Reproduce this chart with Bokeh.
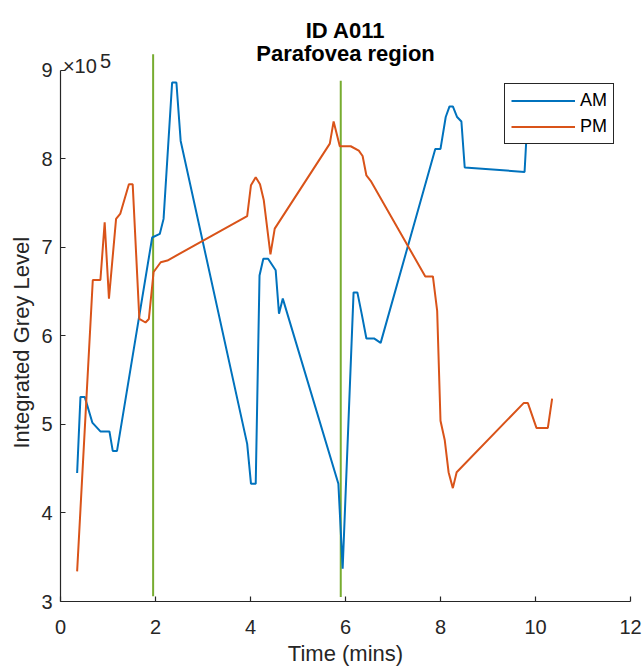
from bokeh.plotting import figure
from bokeh.models import (Range1d, FixedTicker, Legend, LegendItem, Title)
from bokeh.core.properties import value
from bokeh.embed import file_html
from bokeh.resources import INLINE

# ---------------- data (values in units of 1e5) ----------------
am_time = [0.35, 0.42, 0.51, 0.67, 0.84, 1.03, 1.10, 1.19, 1.93, 2.09, 2.17, 2.35,
           2.44, 2.53, 3.93, 4.01, 4.11, 4.19, 4.27, 4.37, 4.53, 4.60, 4.68, 5.85,
           5.94, 6.17, 6.25, 6.34, 6.44, 6.60, 6.74, 7.89, 8.00, 8.11, 8.19, 8.26,
           8.35, 8.44, 8.51, 9.77, 9.80, 9.83]
am_level = [4.45, 5.31, 5.31, 5.02, 4.92, 4.92, 4.70, 4.70, 7.11, 7.15, 7.32, 8.86,
            8.86, 8.20, 4.78, 4.33, 4.33, 6.68, 6.87, 6.87, 6.74, 6.25, 6.42, 4.33,
            3.37, 6.49, 6.49, 6.25, 5.97, 5.97, 5.92, 8.11, 8.11, 8.47, 8.59, 8.59,
            8.47, 8.42, 7.90, 7.85, 8.15, 8.35]

pm_time = [0.35, 0.68, 0.84, 0.93, 1.02, 1.17, 1.26, 1.44, 1.52, 1.66, 1.79, 1.86,
           1.96, 2.11, 2.25, 3.93, 4.01, 4.11, 4.20, 4.28, 4.42, 4.51, 5.67, 5.75,
           5.88, 6.11, 6.28, 6.36, 6.44, 6.53, 7.68, 7.84, 7.93, 8.00, 8.09, 8.17,
           8.26, 8.34, 9.75, 9.84, 10.02, 10.26, 10.35]
pm_level = [3.34, 6.63, 6.63, 7.28, 6.42, 7.32, 7.38, 7.71, 7.71, 6.19, 6.15, 6.19,
            6.72, 6.83, 6.85, 7.35, 7.70, 7.79, 7.71, 7.53, 6.92, 7.21, 8.17, 8.42,
            8.14, 8.14, 8.09, 8.03, 7.81, 7.75, 6.67, 6.67, 6.28, 5.04, 4.82, 4.46,
            4.28, 4.46, 5.24, 5.24, 4.96, 4.96, 5.29]

marker_time = [1.95, 5.90]
marker_low = [3.06, 3.05]
marker_high = [9.18, 8.88]

x_ticks = [0, 2, 4, 6, 8, 10, 12]
y_ticks = [3, 4, 5, 6, 7, 8, 9]

FONT = "Liberation Sans"
AX = "#262626"

# ---------------- figure ----------------
p = figure(width=644, height=668, output_backend="svg", toolbar_location=None,
           x_range=Range1d(0, 12), y_range=Range1d(3, 3 + 596 / 88.57),
           min_border_left=60, min_border_right=14, min_border_top=5,
           min_border_bottom=67)
p.outline_line_color = None
p.xgrid.visible = False
p.ygrid.visible = False
p.background_fill_color = "white"
p.border_fill_color = "white"

for ax in (p.xaxis[0], p.yaxis[0]):
    ax.axis_line_color = AX
    ax.axis_line_width = 1.2
    ax.major_tick_line_color = AX
    ax.major_tick_line_width = 1.2
    ax.major_tick_in = 5
    ax.major_tick_out = 0
    ax.minor_tick_line_color = None
    ax.major_label_text_font = FONT
    ax.major_label_text_font_size = "20px"
    ax.major_label_text_color = AX
    ax.axis_label_text_font = FONT
    ax.axis_label_text_font_size = "22px"
    ax.axis_label_text_font_style = "normal"
    ax.axis_label_text_color = AX

p.xaxis[0].ticker = FixedTicker(ticks=x_ticks)
p.yaxis[0].ticker = FixedTicker(ticks=y_ticks)
p.yaxis[0].bounds = (3, 9)
p.xaxis[0].axis_label = "Time (mins)"
p.xaxis[0].major_label_standoff = 18
p.xaxis[0].axis_label_standoff = 4
p.yaxis[0].major_label_standoff = 8

# y-axis label as a side title, placed beside the 3..9 span of the axis
ylab = Title(text="Integrated Grey Level", align="left", offset=153,
             vertical_align="top",
             text_font=FONT, text_font_size="22px", text_font_style="normal",
             text_color=AX, standoff=6)
p.add_layout(ylab, "left")

# vertical marker lines
p.segment(x0=marker_time, x1=marker_time, y0=marker_low, y1=marker_high,
          line_color="#77AC30", line_width=2)

am = p.line(am_time, am_level, line_color="#0072BD", line_width=2)
pm = p.line(pm_time, pm_level, line_color="#D95319", line_width=2)

# titles and exponent label
p.text(x=[6], y=[3 + 571 / 88.57], text=["ID A011"], text_font=value(FONT),
       text_font_size="22px", text_font_style="bold", text_align="center",
       text_baseline="alphabetic", text_color="black")
p.text(x=[6], y=[3 + 548 / 88.57], text=["Parafovea region"], text_font=value(FONT),
       text_font_size="22px", text_font_style="bold", text_align="center",
       text_baseline="alphabetic", text_color="black")
p.text(x=[0.05], y=[3 + 536 / 88.57], text=["\u00d710"], text_font=value(FONT),
       text_font_size="20px", text_align="left", text_baseline="alphabetic",
       text_color=AX)
p.text(x=[0.83], y=[3 + 541 / 88.57], text=["5"], text_font=value(FONT),
       text_font_size="20px", text_align="left", text_baseline="alphabetic",
       text_color=AX)

legend = Legend(items=[LegendItem(label="AM", renderers=[am]),
                       LegendItem(label="PM", renderers=[pm])],
                location=(444, 457), orientation="vertical")
legend.label_text_font = FONT
legend.label_text_font_size = "18px"
legend.label_text_color = "black"
legend.glyph_width = 64
legend.glyph_height = 21
legend.label_height = 21
legend.label_standoff = 5
legend.padding = 6
legend.spacing = 5
legend.margin = 0
legend.border_line_color = AX
legend.border_line_width = 1.6
legend.border_line_alpha = 1.0
legend.background_fill_color = "white"
legend.background_fill_alpha = 1.0
p.add_layout(legend, "center")

open("out.html", "w").write(file_html(p, INLINE))
